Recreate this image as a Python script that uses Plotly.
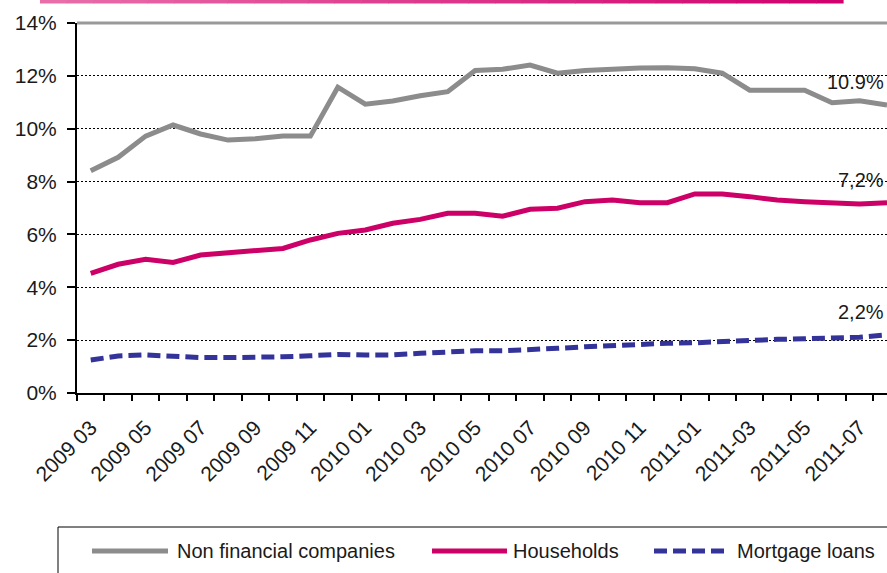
import plotly.graph_objects as go

# Monthly growth rates of loans (annual %, end of month)
months = ["2009 03", "2009 04", "2009 05", "2009 06", "2009 07", "2009 08",
          "2009 09", "2009 10", "2009 11", "2009 12", "2010 01", "2010 02",
          "2010 03", "2010 04", "2010 05", "2010 06", "2010 07", "2010 08",
          "2010 09", "2010 10", "2010 11", "2010 12", "2011-01", "2011-02",
          "2011-03", "2011-04", "2011-05", "2011-06", "2011-07", "2011-08"]

non_financial = [8.41, 8.92, 9.72, 10.14, 9.80, 9.57, 9.62, 9.72, 9.72, 11.57,
                 10.93, 11.05, 11.25, 11.40, 12.20, 12.25, 12.41, 12.10, 12.20, 12.27,
                 12.30, 12.31, 12.27, 12.10, 11.46, 11.46, 11.46, 10.98, 11.06, 10.9]

households = [4.53, 4.87, 5.06, 4.94, 5.22, 5.29, 5.38, 5.47, 5.79, 6.04,
              6.17, 6.42, 6.57, 6.80, 6.80, 6.69, 6.95, 6.99, 7.24, 7.30,
              7.20, 7.20, 7.53, 7.53, 7.43, 7.30, 7.24, 7.19, 7.15, 7.2]

mortgage = [1.25, 1.40, 1.44, 1.37, 1.34, 1.34, 1.34, 1.37, 1.41, 1.46,
            1.44, 1.44, 1.50, 1.56, 1.60, 1.60, 1.63, 1.69, 1.75, 1.80,
            1.85, 1.88, 1.90, 1.95, 2.00, 2.03, 2.05, 2.08, 2.11, 2.2]

series_names = ["Non financial companies", "Households", "Mortgage loans"]
y_ticks = [0, 2, 4, 6, 8, 10, 12, 14]
y_ticktext = [f"{v}%" for v in y_ticks]

GRAY = "#8C8C8C"
PINK = "#CC0066"
BLUE = "#333399"
FONT = "Liberation Sans, Arial, sans-serif"

W, H = 887, 573
ML, MR, MT, MB = 77, 0, 23, 180
PL, PR, PT, PB = ML, W - MR, MT, H - MB


def px(x):
    return (x - PL) / (PR - PL)


def py(y):
    return (PB - y) / (PB - PT)


fig = go.Figure()

styles = [
    dict(color=GRAY, width=5),
    dict(color=PINK, width=5),
    dict(color=BLUE, width=5, dash="13px,6px"),
]
for name, vals, st in zip(series_names, [non_financial, households, mortgage], styles):
    fig.add_trace(go.Scatter(x=months, y=vals, mode="lines", name=name,
                             line=st, showlegend=False, xaxis="x", yaxis="y"))

# boundary tick marks between months
fig.add_trace(go.Scatter(x=[0], y=[None], xaxis="x2", yaxis="y",
                         showlegend=False, hoverinfo="skip"))

# end-of-period value labels
for vals in [non_financial, households, mortgage]:
    txt = "{:.1f}%".format(vals[-1])
    if vals is not non_financial:
        txt = txt.replace(".", ",")
    fig.add_annotation(x=months[-1], y=vals[-1], xref="x", yref="y", text=txt,
                       showarrow=False, xanchor="right", yanchor="middle",
                       yshift=23, xshift=-1,
                       font=dict(family=FONT, size=20, color="#1a1a1a"))

shapes = []
# gradient banner across the top
n_seg = 30
x_start, x_end = 40, 843
c0, c1 = (232, 110, 170), (208, 0, 110)
for i in range(n_seg):
    t = i / (n_seg - 1)
    col = "rgb({},{},{})".format(*[round(a + (b - a) * t) for a, b in zip(c0, c1)])
    xa = x_start + (x_end - x_start) * i / n_seg
    xb = x_start + (x_end - x_start) * (i + 1) / n_seg + 0.6
    shapes.append(dict(type="rect", xref="paper", yref="paper",
                       x0=px(xa), x1=px(xb), y0=py(3.5), y1=py(0),
                       line=dict(width=0), fillcolor=col, layer="above"))

# plot-area top border
shapes.append(dict(type="line", xref="paper", yref="paper", x0=0, x1=1.02,
                   y0=1, y1=1, line=dict(color="#999999", width=3)))

# legend box
shapes.append(dict(type="rect", xref="paper", yref="paper",
                   x0=px(58), x1=px(905), y0=py(527), y1=py(600),
                   line=dict(color="black", width=1), fillcolor="rgba(0,0,0,0)"))

legend_items = [
    (92, 168, 175, styles[0]),
    (432, 507, 511, styles[1]),
    (654, 730, 735, styles[2]),
]
for (lx0, lx1, tx, st), name in zip(legend_items, series_names):
    shapes.append(dict(type="line", xref="paper", yref="paper",
                       x0=px(lx0), x1=px(lx1), y0=py(551), y1=py(551),
                       line=st))
    fig.add_annotation(x=px(tx), y=py(551), xref="paper", yref="paper",
                       text=name, showarrow=False, xanchor="left",
                       yanchor="middle",
                       font=dict(family=FONT, size=20, color="#1a1a1a"))

fig.update_layout(
    width=W, height=H,
    margin=dict(l=ML, r=MR, t=MT, b=MB, pad=0),
    paper_bgcolor="white", plot_bgcolor="white",
    font=dict(family=FONT, size=20, color="#1a1a1a"),
    shapes=shapes,
    xaxis=dict(type="category", range=[-0.5, 29.0], tickvals=months[::2],
               ticktext=months[::2], tickangle=-45, ticks="",
               showline=True, linecolor="black", linewidth=2,
               showgrid=False, zeroline=False, ticklabelstandoff=12,
               tickfont=dict(family=FONT, size=21, color="#1a1a1a")),
    xaxis2=dict(overlaying="x", anchor="y", side="bottom", range=[-0.5, 29.0],
                tickvals=[i - 0.5 for i in range(31)], showticklabels=False,
                ticks="outside", ticklen=7, tickwidth=1.5, tickcolor="black",
                showgrid=False, zeroline=False, showline=False),
    yaxis=dict(range=[0, 14], tickvals=y_ticks, ticktext=y_ticktext,
               ticks="outside", ticklen=8, tickwidth=1.5, tickcolor="black",
               showline=True, linecolor="black", linewidth=2,
               showgrid=True, gridcolor="black", gridwidth=1, griddash="2px,2px",
               zeroline=False, ticklabelstandoff=6,
               tickfont=dict(family=FONT, size=21, color="#1a1a1a")),
)

fig.write_html("out.html")
